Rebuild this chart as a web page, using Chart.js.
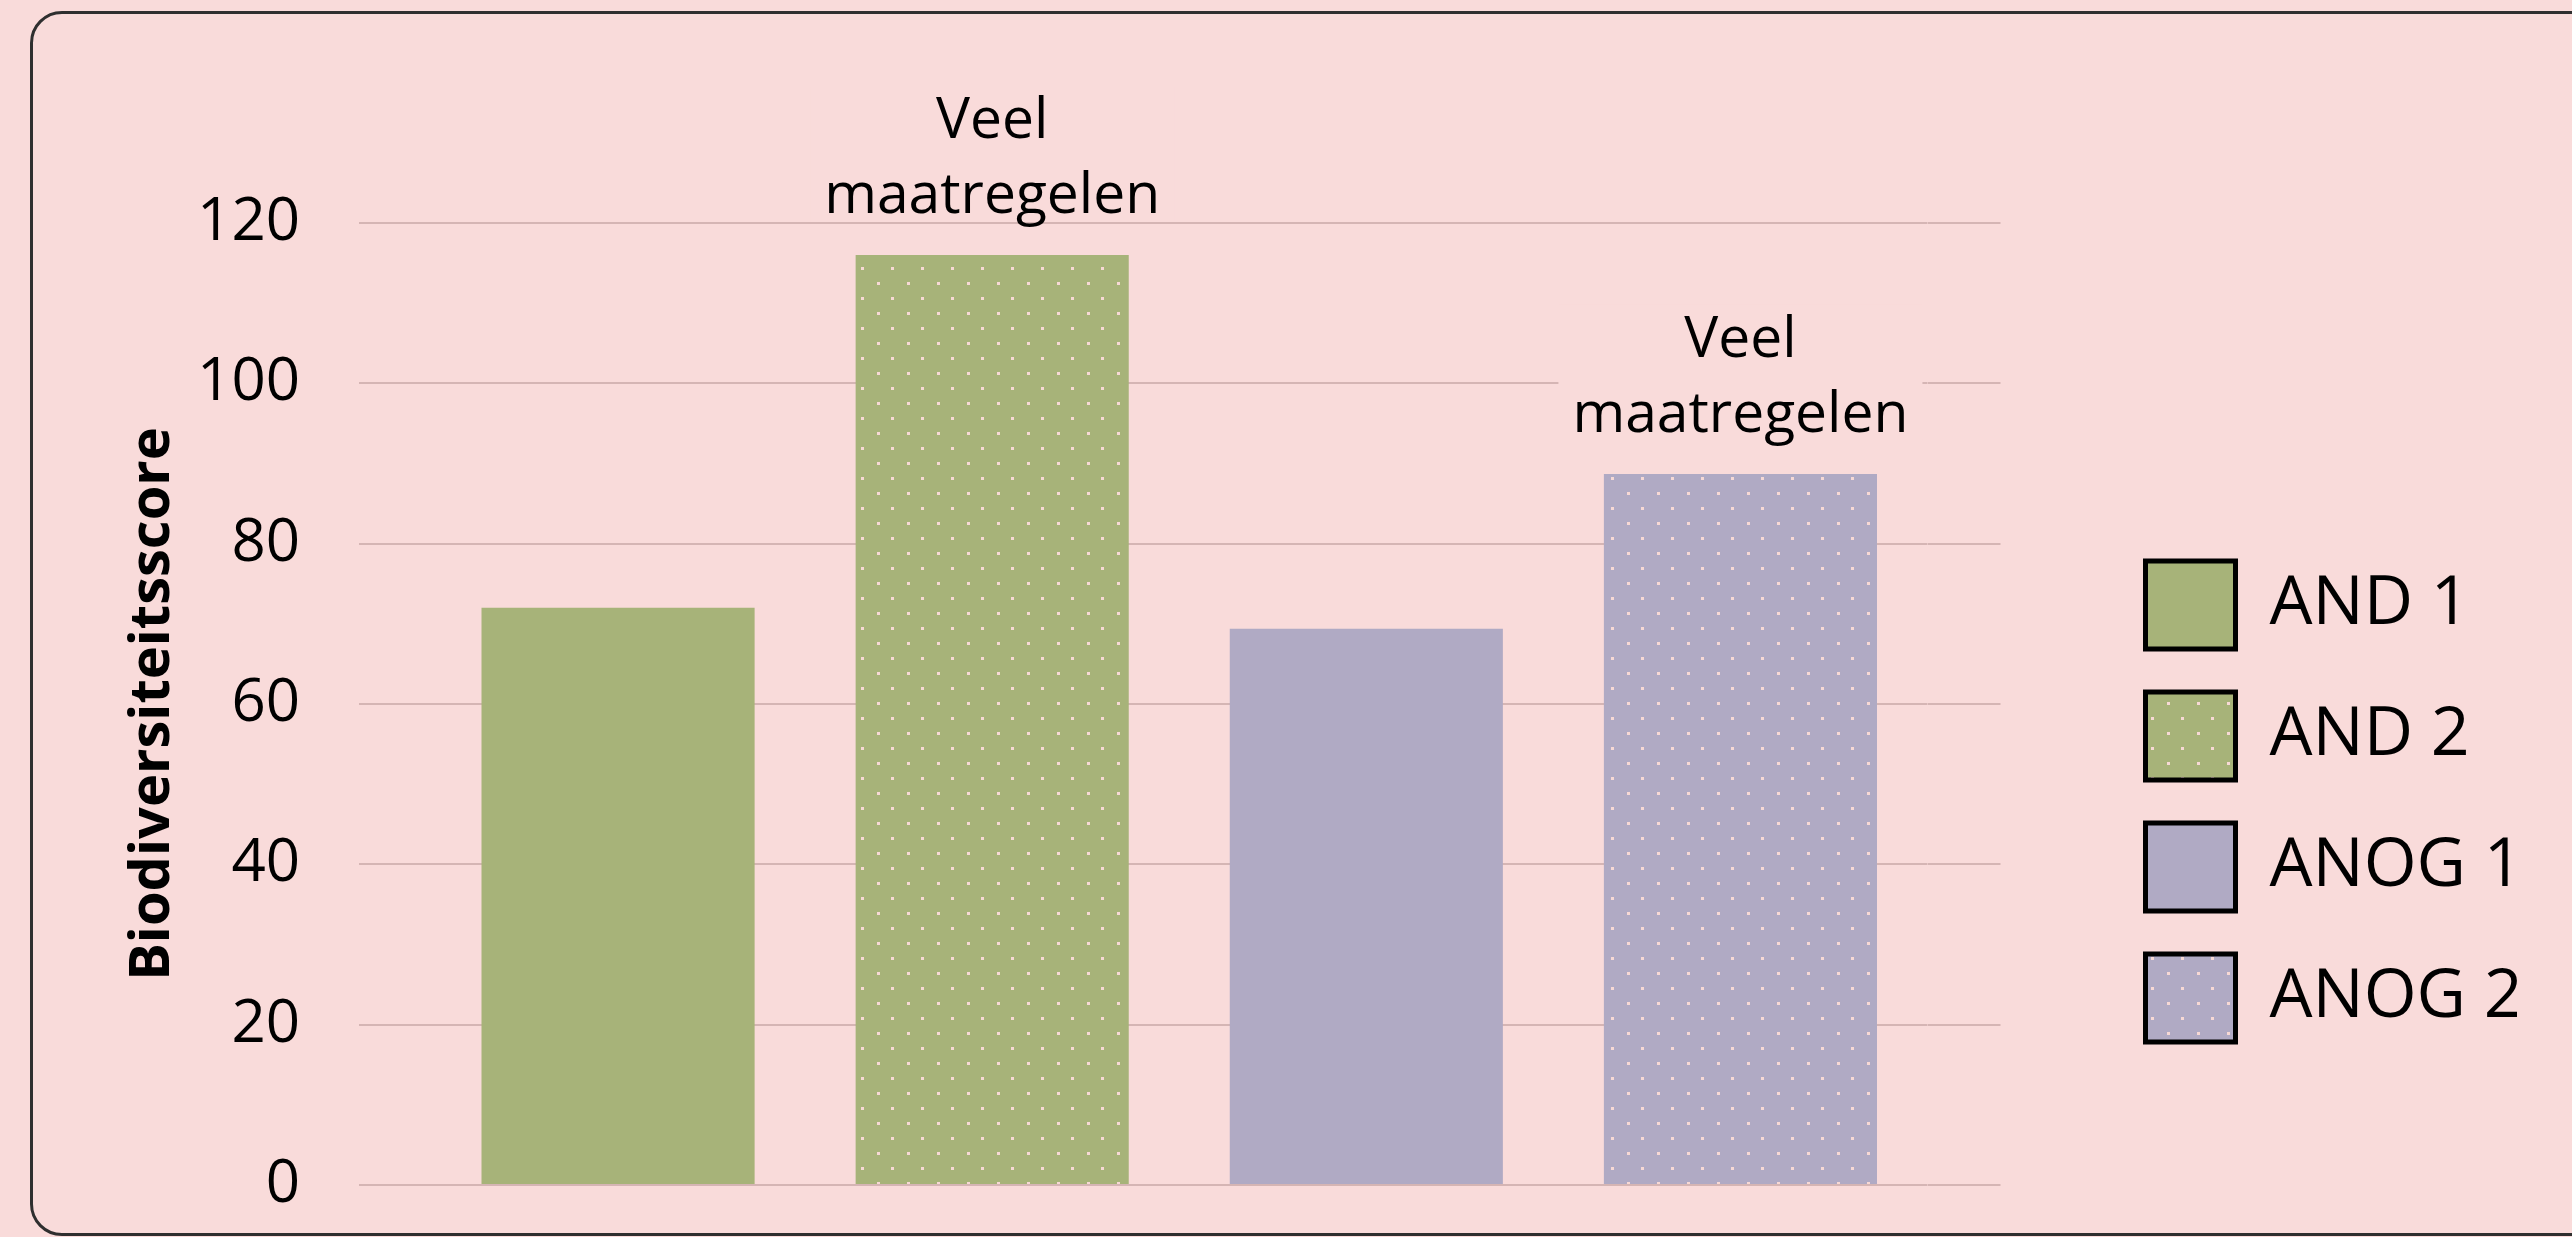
<!DOCTYPE html>
<html>
<head>
<meta charset="utf-8">
<script src="https://cdn.jsdelivr.net/npm/chart.js"></script>
<style>
  html, body { margin: 0; padding: 0; background: #F9DBDA; overflow: hidden; }
  #wrap { position: relative; width: 2572px; height: 1237px; }
  #frame { position: absolute; left: 30px; top: 11px; width: 2600px; height: 1219px;
           border: 3px solid #2f2f2f; border-radius: 32px; pointer-events: none; }
</style>
</head>
<body>
<div id="wrap">
  <canvas id="chart" width="2572" height="1237"></canvas>
  <div id="frame"></div>
</div>
<script>
const categories = ['AND 1', 'AND 2', 'ANOG 1', 'ANOG 2'];
const scores = [72, 116, 69.4, 88.7];
const dotted = [false, true, false, true];
const barNotes = [[], ['Veel', 'maatregelen'], [], ['Veel', 'maatregelen']];
const yMin = 0, yMax = 120, yStep = 20;

const bg = '#F9DBDA';
const gridColor = '#D5B5B4';
const dotColor = '#F7D9D5';
const baseColors = ['#A7B379', '#A7B379', '#B0AAC4', '#B0AAC4'];

const canvas = document.getElementById('chart');
const ctx = canvas.getContext('2d');

// small tile with two offset dots, repeated over the bar
function dotPattern(color) {
  const t = document.createElement('canvas');
  t.width = 30; t.height = 30;
  const g = t.getContext('2d');
  g.fillStyle = color;
  g.fillRect(0, 0, 30, 30);
  g.fillStyle = dotColor;
  g.fillRect(21, 27, 3, 3);
  g.fillRect(7, 12, 3, 3);
  return ctx.createPattern(t, 'repeat');
}

const fills = baseColors.map((c, i) => dotted[i] ? dotPattern(c) : c);

Chart.defaults.font.family = "'Open Sans', sans-serif";
Chart.defaults.color = '#000';

const notePlugin = {
  id: 'notes',
  afterDatasetsDraw(chart) {
    const c = chart.ctx;
    const meta = chart.getDatasetMeta(0);
    c.save();
    c.font = "57px 'Open Sans'";
    c.textAlign = 'center';
    c.textBaseline = 'alphabetic';
    meta.data.forEach((bar, i) => {
      const lines = barNotes[i];
      if (!lines.length) return;
      const lh = 75;
      const base = bar.y - 42;
      const top = base - lh * (lines.length - 1) - 52;
      c.fillStyle = bg;
      c.fillRect(bar.x - 182, top, 364, base + 8 - top);
      c.fillStyle = '#000';
      lines.forEach((t, k) => c.fillText(t, bar.x, base - lh * (lines.length - 1 - k)));
    });
    c.restore();
  }
};

new Chart(ctx, {
  type: 'bar',
  data: {
    labels: categories,
    datasets: [{
      data: scores,
      backgroundColor: fills,
      borderWidth: 0,
      barPercentage: 0.73,
      categoryPercentage: 1
    }]
  },
  options: {
    responsive: false,
    animation: false,
    layout: { padding: { top: 223, bottom: 52, left: 30, right: 55 } },
    plugins: {
      tooltip: { enabled: false },
      legend: {
        position: 'right',
        align: 'start',
        title: { display: true, text: '', font: { size: 10 }, padding: { top: 283, bottom: 0 } },
        labels: {
          boxWidth: 90,
          boxHeight: 88,
          padding: 43,
          color: '#000',
          font: { size: 68 },
          generateLabels: () => categories.map((c, i) => ({
            text: c,
            fillStyle: fills[i],
            strokeStyle: '#000',
            lineWidth: 5,
            hidden: false,
            index: i
          }))
        }
      }
    },
    scales: {
      x: { display: false },
      y: {
        min: yMin,
        max: yMax,
        ticks: { stepSize: yStep, padding: 59, color: '#000', font: { size: 60 } },
        grid: { color: gridColor, lineWidth: 2, drawTicks: true, tickLength: 72 },
        border: { display: false },
        title: {
          display: true,
          text: 'Biodiversiteitsscore',
          color: '#000',
          font: { size: 56, weight: 'bold' },
          padding: { top: 89, bottom: 0 }
        },
        afterFit(scale) {
          scale.width = 401;
          // the layout padding already leaves room for the end labels
          scale.paddingTop = 0;
          scale.paddingBottom = 0;
        }
      },
      y2: {
        position: 'right',
        min: yMin,
        max: yMax,
        ticks: { display: false, stepSize: yStep },
        grid: { color: gridColor, lineWidth: 2, drawOnChartArea: false, drawTicks: true, tickLength: 73 },
        border: { display: false },
        afterFit(scale) { scale.width = 175; }
      }
    }
  },
  plugins: [notePlugin]
});
</script>
</body>
</html>
